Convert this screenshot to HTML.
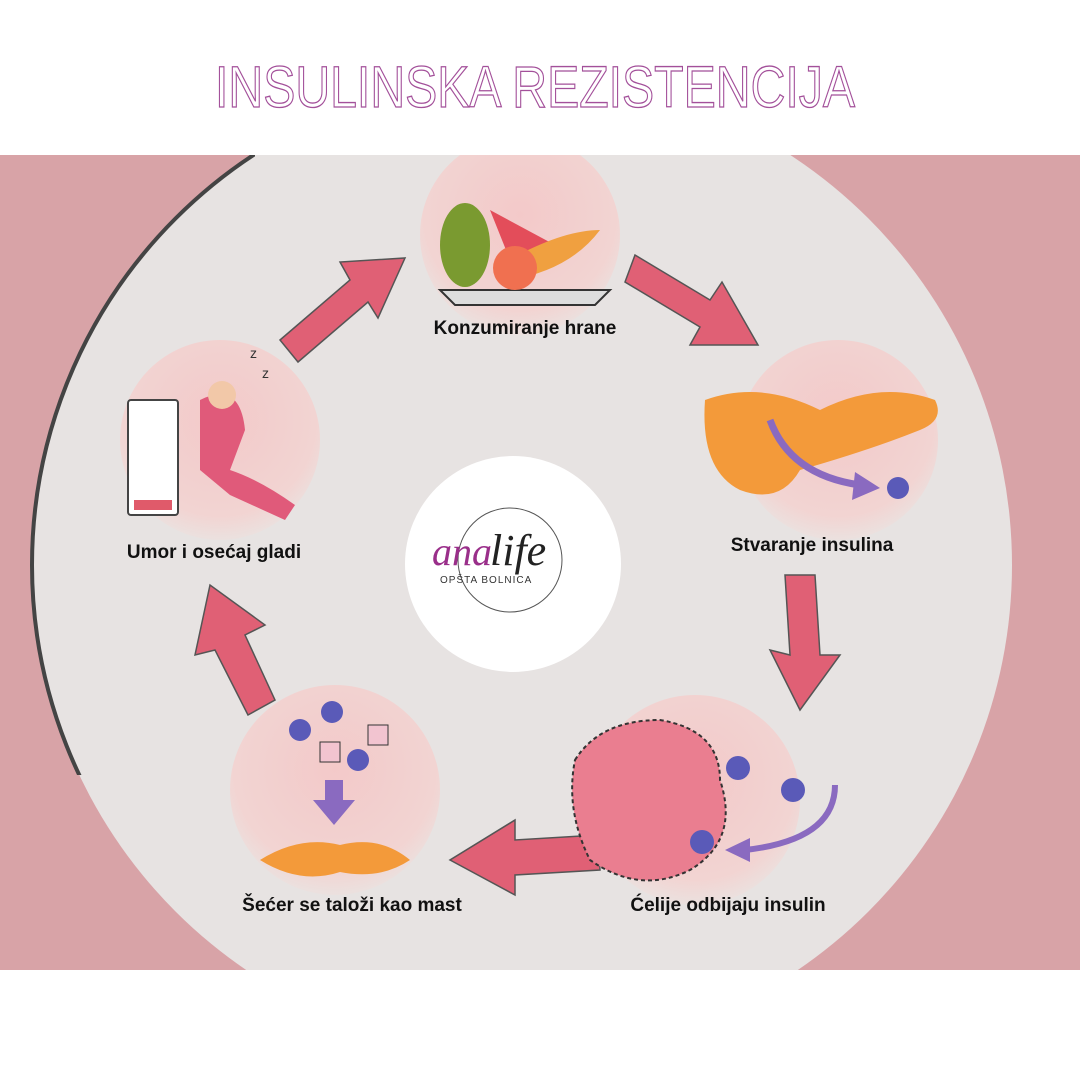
<!DOCTYPE html>
<html><head><meta charset="utf-8"><style>
html,body{margin:0;padding:0;background:#fff;}
svg{display:block}
</style></head><body>
<svg width="1080" height="1080" viewBox="0 0 1080 1080" xmlns="http://www.w3.org/2000/svg">
<defs>
<radialGradient id="pg" cx="0.5" cy="0.4" r="0.6">
<stop offset="0" stop-color="#f3c9c9"/><stop offset="0.8" stop-color="#f2d4d2"/><stop offset="1" stop-color="#ebe1df"/>
</radialGradient>
<clipPath id="band"><rect x="0" y="155" width="1080" height="815"/></clipPath>
<clipPath id="arcc"><rect x="0" y="155" width="255" height="620"/></clipPath>
</defs>
<rect width="1080" height="1080" fill="#fff"/>
<text x="535" y="107" text-anchor="middle" font-family="Liberation Sans Narrow, Liberation Sans, sans-serif" font-size="58" fill="none" stroke="#a3509a" stroke-width="1.3" textLength="640" lengthAdjust="spacingAndGlyphs">INSULINSKA REZISTENCIJA</text>
<rect x="0" y="155" width="1080" height="815" fill="#d8a3a7"/>
<g clip-path="url(#band)">
<circle cx="522" cy="565" r="490" fill="#e7e3e2"/>
<circle cx="522" cy="565" r="490" fill="none" stroke="#444" stroke-width="4" clip-path="url(#arcc)"/>
<circle cx="520" cy="235" r="100" fill="url(#pg)"/>
</g>
<circle cx="838" cy="440" r="100" fill="url(#pg)"/>
<circle cx="695" cy="800" r="105" fill="url(#pg)"/>
<circle cx="335" cy="790" r="105" fill="url(#pg)"/>
<circle cx="220" cy="440" r="100" fill="url(#pg)"/>
<g fill="#e06075" stroke="#555" stroke-width="1.5">
<path d="M280 340 L350 280 L340 262 L405 258 L378 318 L368 302 L298 362 Z"/>
<path d="M635 255 L710 300 L722 282 L758 345 L690 345 L700 327 L625 282 Z"/>
<path d="M815 575 L820 655 L840 655 L800 710 L770 650 L790 655 L785 575 Z"/>
<path d="M598 835 L515 840 L515 820 L450 860 L515 895 L515 875 L600 870 Z"/>
<path d="M248 715 L215 650 L195 655 L210 585 L265 625 L245 635 L275 700 Z"/>
</g>
<path d="M440 290 L610 290 L595 305 L455 305 Z" fill="#ddd" stroke="#333" stroke-width="2"/>
<ellipse cx="465" cy="245" rx="25" ry="42" fill="#7a9a30"/>
<path d="M490 210 L555 245 L510 260 Z" fill="#e34d5a"/>
<path d="M500 265 Q560 230 600 230 Q570 270 510 280Z" fill="#f0a040"/>
<circle cx="515" cy="268" r="22" fill="#f07050"/>
<path d="M705 400 Q760 380 820 410 Q880 380 935 400 Q945 420 920 430 Q870 450 800 470 Q780 505 740 490 Q700 470 705 400Z" fill="#f39a3a"/>
<path d="M770 420 Q790 475 860 485" fill="none" stroke="#8a6ac0" stroke-width="7"/>
<path d="M855 472 L880 488 L852 500 Z" fill="#8a6ac0"/>
<circle cx="898" cy="488" r="11" fill="#5a5ab8"/>
<path d="M575 760 Q600 720 660 720 Q720 730 720 780 Q740 840 690 870 Q640 895 590 860 Q565 810 575 760Z" fill="#ea7e90" stroke="#333" stroke-dasharray="4 3" stroke-width="2"/>
<circle cx="738" cy="768" r="12" fill="#5a5ab8"/><circle cx="793" cy="790" r="12" fill="#5a5ab8"/><circle cx="702" cy="842" r="12" fill="#5a5ab8"/>
<path d="M835 785 Q835 840 745 850" fill="none" stroke="#8a6ac0" stroke-width="6"/>
<path d="M750 838 L725 850 L750 862Z" fill="#8a6ac0"/>
<circle cx="300" cy="730" r="11" fill="#5a5ab8"/><circle cx="332" cy="712" r="11" fill="#5a5ab8"/><circle cx="358" cy="760" r="11" fill="#5a5ab8"/>
<rect x="320" y="742" width="20" height="20" fill="#f2c4d0" stroke="#333"/><rect x="368" y="725" width="20" height="20" fill="#f2c4d0" stroke="#333"/>
<path d="M325 780 L343 780 L343 800 L355 800 L334 825 L313 800 L325 800Z" fill="#8a6ac0"/>
<path d="M260 860 Q300 835 340 845 Q380 835 410 860 Q380 880 340 872 Q300 885 260 860Z" fill="#f39a3a"/>
<rect x="128" y="400" width="50" height="115" rx="3" fill="#fff" stroke="#444" stroke-width="2"/>
<rect x="134" y="500" width="38" height="10" fill="#e05a6a"/>
<path d="M200 400 Q240 380 245 430 L230 470 Q260 480 295 505 L285 520 L230 495 L200 470Z" fill="#e05a7a"/>
<circle cx="222" cy="395" r="14" fill="#f2c8a8"/>
<text x="250" y="358" font-family="Liberation Sans" font-size="14" fill="#333">z</text>
<text x="262" y="378" font-family="Liberation Sans" font-size="14" fill="#333">z</text>
<circle cx="513" cy="564" r="108" fill="#fff"/>
<circle cx="510" cy="560" r="52" fill="none" stroke="#555" stroke-width="1"/>
<text x="432" y="565" font-family="Liberation Serif, serif" font-style="italic" font-size="40" fill="#9a2f8a">ana</text>
<text x="490" y="565" font-family="Liberation Serif, serif" font-style="italic" font-size="44" fill="#222">life</text>
<text x="440" y="583" font-family="Liberation Sans, sans-serif" font-size="10" fill="#333" letter-spacing="1">OPŠTA BOLNICA</text>
<g font-family="Liberation Sans, sans-serif" font-weight="bold" font-size="19" fill="#111" text-anchor="middle">
<text x="525" y="334">Konzumiranje hrane</text>
<text x="812" y="551">Stvaranje insulina</text>
<text x="728" y="911">Ćelije odbijaju insulin</text>
<text x="352" y="911">Šećer se taloži kao mast</text>
<text x="214" y="558">Umor i osećaj gladi</text>
</g>
</svg>
</body></html>
